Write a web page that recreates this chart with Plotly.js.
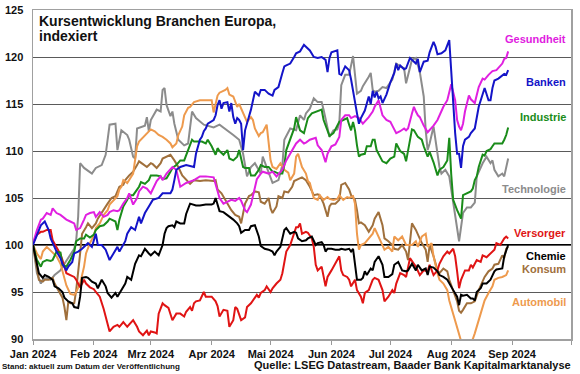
<!DOCTYPE html>
<html>
<head>
<meta charset="utf-8">
<script src="https://cdn.plot.ly/plotly-3.0.1.min.js"></script>
<style>
html,body{margin:0;padding:0;background:#fff;}
#chart{width:580px;height:374px;}
</style>
</head>
<body>
<div id="chart"></div>
<script>
// Day offsets are days since 1 Jan 2024; values are index levels (start = 100)
const tickDates = ['2024-01-01','2024-02-01','2024-03-01','2024-04-01','2024-05-01','2024-06-01','2024-07-01','2024-08-01','2024-09-01','2024-10-01'];
const tickLabels = ['Jan 2024','Feb 2024','Mrz 2024','Apr 2024','Mai 2024','Jun 2024','Jul 2024','Aug 2024','Sep 2024',''];

const techDay = [0,2,4,5,7,9,11,14,16,19,21,22,23,24,26,30,32,35,37,39,42,43,45,48,49,51,52,53,57,58,59,60,63,65,66,67,68,70,71,72,74,77,79,81,83,87,92,95,99,102,105,107,109,111,113,116,117,120,122,125,127,128,131,134,136,138,139,141,143,145,147,148,150,151,153,155,156,157,159,161,163,165,167,168,171,172,173,174,176,178,180,182,183,184,185,187,189,190,191,193,195,196,197,199,200,201,202,204,206,207,208,210,212,213,214,216,217,219,221,223,225,226,228,229,231,233,234,235,237,239,240,242];
const techVal = [100,97.0,95.9,96.3,96.5,96.3,96.8,97.3,98.0,99.0,99.6,100.5,103.0,108.7,108.2,107.6,108.2,108.5,109.6,112.8,112.9,110.1,112.2,111.7,111.2,109.4,109.2,112.4,112.7,113.6,112.1,113.3,114.4,114.2,116.5,116.7,114.9,113.7,114.2,112.9,111.2,110.6,110.8,114.2,113.5,112.8,112.5,112.8,112.2,111.7,111.2,109.7,107.3,108.3,108.7,107.6,109.4,107.8,106.6,106.9,108.5,111.2,112.4,112.2,113.8,113.3,114.0,114.5,115.6,115.2,115.2,114.4,112.4,111.5,112.2,112.3,113.0,117.0,118.1,118.1,120.1,116.1,116.4,116.9,117.9,118.3,116.5,116.3,116.4,116.8,116.7,117.4,117.6,118.4,119.3,119.0,118.8,117.2,118.1,119.7,119.9,119.1,118.4,115.8,112.2,110.1,110.8,112.6,109.7,108.3,107.6,108.0,107.3,105.9,104.1,101.6,100.4,103.4,104.0,104.0,104.5,107.3,108.3,108.7,109.4,108.7,109.0,108.0,107.3,107.6,107.3,109.2];

const bankDay = [0,2,4,6,8,9,10,12,14,15,17,18,20,21,23,25,27,28,30,32,33,35,37,39,41,43,44,47,48,50,52,54,55,57,59,61,64,66,70,71,72,73,75,78,82,83,85,86,87,88,89,92,93,94,95,96,97,99,100,101,102,103,104,105,106,107,108,109,110,111,113,115,116,118,120,122,123,125,127,128,129,131,133,134,136,138,139,141,143,145,147,149,150,151,152,155,156,157,159,161,162,163,164,165,166,167,169,171,172,173,174,175,176,177,178,180,182,184,185,186,187,189,190,191,192,195,196,197,199,201,202,204,205,206,208,210,212,213,214,215,216,217,218,219,220,222,223,225,227,229,230,232,233,234,235,237,238,240,241,242];
const bankVal = [100,101.1,102.1,102.5,101.6,100.7,100.2,99.3,98.6,98.0,97.3,97.7,98.2,99.1,99.3,99.6,100.0,100.2,99.8,101.2,100.0,100.0,99.5,98.4,99.1,99.8,99.3,100.4,101.2,101.9,101.6,103.0,102.3,103.4,104.1,104.8,105.0,105.5,105.5,105.9,106.9,108.0,108.3,108.5,108.3,109.7,111.2,111.5,112.1,112.4,112.9,113.3,113.8,114.9,115.4,114.5,115.1,115.2,114.2,115.1,113.6,112.9,113.5,113.3,112.9,110.1,112.2,112.9,113.6,114.4,116.3,115.9,116.5,116.5,116.1,115.9,116.5,116.8,118.3,119.0,119.1,119.3,120.0,120.4,120.6,121.3,121.1,120.7,120.0,119.9,120.0,119.7,118.4,119.9,120.5,120.7,118.2,118.1,119.0,118.6,117.6,116.3,115.4,114.0,112.9,113.5,114.3,115.8,115.0,116.4,115.7,116.3,115.6,115.8,115.1,116.0,117.3,118.3,119.3,118.6,119.1,118.7,118.8,119.3,119.9,119.3,119.8,118.4,119.5,119.6,120.5,121.6,121.1,120.3,120.4,120.7,121.8,118.5,114.5,111.9,109.7,109.7,108.2,110.5,111.2,111.5,111.9,112.4,114.7,116.0,116.7,115.4,115.4,116.7,117.5,117.7,117.9,118.2,118.1,118.6];

const healthDay = [0,2,4,5,7,9,10,12,14,15,17,19,21,22,24,26,27,29,31,32,34,36,38,39,41,43,44,46,48,49,51,53,54,56,58,60,61,63,65,66,68,70,71,73,74,75,78,82,85,88,92,94,95,97,99,101,103,105,106,108,109,111,112,113,114,116,117,120,122,124,127,129,131,133,134,136,138,139,141,144,145,147,149,150,152,154,156,157,159,161,162,164,166,168,169,171,173,174,176,177,178,180,182,183,185,187,189,190,191,193,194,195,196,197,199,201,202,204,206,207,209,211,212,213,215,216,217,218,219,220,222,223,225,227,229,230,232,234,236,238,239,240,241,242];
const healthVal = [100.2,101.6,102.7,102.8,103.4,103.2,103.9,103.4,103.2,103.0,102.7,102.5,102.3,101.6,101.8,102.7,103.2,103.4,103.5,103.0,103.5,103.0,103.2,103.5,103.7,103.6,103.7,104.4,105.0,105.5,104.3,105.0,105.7,106.2,106.0,105.5,105.9,106.8,107.3,106.9,107.6,108.0,108.3,108.0,106.9,106.2,106.6,106.9,107.3,107.3,107.2,105.9,105.0,104.4,104.6,104.8,104.7,105.0,104.7,103.7,103.5,104.3,105.2,106.2,107.0,107.6,107.8,107.6,107.8,107.3,108.0,109.0,109.7,110.4,110.8,111.2,110.8,110.9,111.2,111.4,110.6,110.1,108.8,109.7,110.5,110.7,111.5,113.3,113.8,113.8,113.5,113.7,113.5,112.9,113.1,113.6,114.2,114.7,115.4,114.7,113.8,113.3,113.1,112.7,111.9,112.1,112.4,112.2,112.4,114.0,114.7,114.2,113.8,113.6,112.7,112.0,112.2,112.7,113.3,113.8,114.7,115.4,116.3,117.1,115.4,113.3,112.6,112.2,112.9,114.2,115.9,115.5,115.1,116.8,117.7,117.6,118.1,118.5,118.6,119.0,119.3,119.8,119.9,120.6];

const indDay = [0,2,4,5,7,9,10,12,14,15,17,19,21,22,24,26,27,29,31,32,34,36,38,39,42,43,44,46,48,49,51,53,54,55,57,59,60,63,65,66,68,70,71,73,75,77,78,80,81,82,85,86,88,89,91,93,94,95,97,99,100,102,104,105,107,108,110,111,113,115,116,118,120,122,123,125,127,128,129,131,133,134,136,138,140,142,145,147,148,150,151,153,155,156,158,160,161,162,163,164,165,166,167,169,170,172,173,174,175,177,178,180,182,184,185,187,189,190,191,192,193,194,195,196,198,199,201,202,204,206,207,209,211,212,213,214,216,217,218,219,221,223,224,225,226,227,229,230,231,233,234,235,237,239,240,241,242];
const indVal = [100,98.4,97.7,98.2,98.4,98.3,98.4,99.3,99.2,97.9,97.7,98.4,99.3,100.4,100.7,100.7,101.1,100.8,101.1,101.6,102.0,102.1,102.5,102.8,102.5,101.6,102.7,104.1,104.8,105.3,105.3,105.9,106.2,106.7,106.5,106.9,107.4,107.4,107.3,107.0,107.1,107.8,108.2,108.5,109.0,109.0,109.6,110.8,111.2,111.0,111.0,111.0,110.8,111.2,110.5,109.6,110.3,110.0,109.6,110.1,109.2,109.0,109.4,110.1,108.3,108.2,108.2,107.4,107.4,108.0,108.5,108.3,108.3,107.8,107.8,107.6,107.6,108.5,110.1,111.2,112.4,113.6,112.2,111.9,113.5,114.0,114.2,114.4,113.3,112.2,111.6,111.9,112.8,113.1,113.3,113.5,112.8,112.2,113.1,112.2,110.6,109.4,109.6,109.7,110.5,110.5,111.2,111.2,110.1,109.3,108.9,108.7,109.2,109.4,110.8,110.0,109.7,108.9,110.0,111.2,112.3,112.2,111.9,111.5,111.2,110.5,109.4,109.9,108.8,107.4,108.0,108.3,109.0,111.4,107.5,104.8,103.7,103.2,102.8,105.3,105.5,105.7,106.0,106.9,107.3,108.3,109.6,109.5,110.0,110.2,110.5,110.8,110.8,110.8,111.2,111.7,112.5];

const utilDay = [0,2,4,5,7,9,10,12,14,15,17,19,21,22,24,26,27,29,31,32,34,36,38,39,41,43,44,46,48,49,51,53,54,56,58,59,60,62,63,64,66,67,69,71,73,75,77,78,80,81,82,83,85,87,88,89,91,93,94,95,97,99,100,102,103,104,105,106,108,109,111,112,114,115,116,118,119,121,122,124,126,127,128,129,131,133,134,135,136,137,139,140,142,143,144,145,147,149,150,152,154,156,157,158,160,161,162,164,165,167,168,169,171,173,174,176,178,179,181,183,184,185,187,189,190,192,194,195,197,199,201,202,204,206,207,209,211,212,214,215,216,217,218,220,222,223,224,226,228,229,231,233,235,236,238,240,241,242];
const utilVal = [100.2,101.1,101.4,101.4,101.6,101.6,100.5,99.8,99.0,98.4,97.0,96.8,96.6,96.3,95.5,96.3,95.9,95.5,95.3,95.0,94.5,93.2,91.6,90.8,91.3,91.5,91.3,91.8,91.3,91.5,92.0,91.3,90.8,90.4,90.9,90.4,90.8,90.7,90.6,92.7,93.8,93.6,93.3,92.0,92.7,92.7,92.4,92.9,93.4,93.0,93.8,94.0,94.1,95.0,94.5,94.5,94.5,94.0,93.5,92.4,93.1,93.0,91.3,92.0,93.4,93.2,92.7,92.0,92.3,93.4,93.8,94.1,94.7,94.4,94.9,95.2,95.6,95.0,95.4,95.9,96.3,97.0,98.4,99.3,100.0,101.2,101.9,101.9,102.3,101.2,101.4,101.3,100.7,99.8,97.9,97.3,97.7,95.6,96.6,97.3,98.0,98.8,97.3,96.8,96.6,96.3,95.6,96.3,95.2,94.5,93.8,94.9,95.2,96.3,96.5,96.3,95.2,94.0,94.5,95.2,94.9,95.9,97.0,96.8,96.6,98.6,98.0,97.7,96.8,97.3,97.2,97.9,96.8,97.3,98.0,98.8,99.3,99.1,99.6,98.8,97.2,95.4,96.3,97.3,97.3,97.9,97.6,98.4,98.2,98.9,98.7,99.1,99.5,100.2,100.0,100.7,100.9,100.7];

const chemDay = [0,2,3,5,6,8,10,11,13,15,16,18,20,21,23,24,25,27,28,30,32,33,35,37,38,40,42,43,45,47,48,50,52,54,55,57,59,60,62,64,66,67,68,69,71,72,73,75,77,78,80,82,83,85,87,88,91,92,93,94,95,97,99,100,102,104,105,106,108,110,111,113,115,116,118,120,122,123,124,126,128,129,131,133,134,135,137,139,140,142,144,145,147,148,149,150,152,154,156,157,159,161,162,163,164,165,167,168,169,170,172,173,174,176,178,179,181,183,184,186,188,190,191,193,195,196,198,200,201,202,204,206,207,209,211,212,214,216,217,218,219,221,223,224,225,226,228,229,231,233,235,236,238,239,240,242];
const chemVal = [100,98.0,97.0,96.5,96.8,96.6,96.3,95.6,95.4,95.0,94.4,94.0,93.8,93.4,93.3,94.5,96.5,96.6,96.5,96.1,95.9,95.4,96.3,95.6,94.9,94.4,94.9,94.5,95.2,95.9,96.6,96.3,98.0,98.9,98.8,99.6,99.1,98.9,99.3,98.9,100.0,101.2,101.8,102.0,102.1,101.9,102.5,102.3,102.3,103.3,104.4,104.3,104.2,104.2,104.3,104.3,104.3,104.4,105.0,104.3,103.6,103.5,103.2,103.0,102.7,102.3,102.0,101.3,101.6,101.6,102.0,102.1,100.9,99.9,99.6,99.5,99.3,98.9,99.3,99.8,101.6,101.8,101.2,101.4,101.3,100.7,100.4,100.5,100.7,100.9,100.0,100.2,100.3,100.0,99.3,99.6,99.6,99.5,99.5,99.6,99.5,99.6,99.3,99.6,98.0,96.3,96.3,96.5,97.2,96.8,97.5,97.3,98.2,98.8,97.9,96.6,96.6,96.9,97.9,98.2,97.3,97.2,97.3,98.0,97.3,97.9,97.3,97.5,96.8,97.7,97.6,97.2,96.8,96.6,96.3,95.9,95.2,94.5,93.6,94.7,94.6,94.7,94.3,94.3,94.1,95.0,95.4,95.9,95.9,96.3,97.2,97.4,97.5,97.5,98.8,100.0];

const consDay = [0,2,3,5,6,8,10,11,13,15,16,17,18,19,21,22,24,25,27,28,30,32,33,35,37,38,40,42,43,44,46,47,49,51,53,54,56,58,60,61,63,65,66,68,70,72,74,76,78,80,82,85,88,92,93,94,96,98,99,101,103,105,106,107,108,110,111,113,115,116,118,120,121,122,124,125,127,128,130,132,133,135,137,139,141,143,145,146,148,150,151,152,154,156,157,159,161,162,164,165,166,167,169,171,173,174,176,178,179,181,183,184,186,188,190,191,192,193,195,196,198,200,201,202,204,206,207,209,211,212,214,216,217,218,219,220,221,223,225,227,229,230,232,234,235,237,239,240,241,242];
const consVal = [100,97.3,96.3,96.1,96.3,96.3,96.5,95.9,95.2,94.4,93.4,92.0,94.0,93.8,93.8,95.2,99.1,101.2,101.9,102.3,101.8,102.3,102.8,103.5,104.1,104.4,105.0,105.2,105.7,106.2,106.4,106.9,107.4,107.8,108.5,108.9,108.6,108.3,108.7,108.6,108.2,108.7,109.2,109.4,109.6,109.0,108.3,107.4,107.0,106.5,106.9,106.8,106.9,106.8,106.9,105.9,105.5,104.8,104.3,103.7,103.2,103.0,102.3,103.4,104.4,105.2,105.3,105.7,105.6,104.6,104.4,105.0,103.9,103.4,104.1,105.2,105.0,105.7,105.6,106.2,106.8,107.0,107.2,106.9,106.2,105.3,105.4,105.3,104.4,103.0,104.1,104.4,104.4,104.8,106.4,106.6,105.9,105.3,104.8,103.7,102.3,102.4,102.1,101.4,102.1,102.8,103.5,102.1,100.7,100.4,100.0,99.6,99.5,100.0,99.3,98.4,100.5,102.3,101.6,101.1,100.2,99.5,98.2,100.0,98.8,97.3,97.0,97.5,97.2,96.3,95.2,94.0,93.0,92.8,93.1,93.5,93.8,93.8,94.0,95.2,96.1,96.6,97.2,97.5,97.9,98.0,98.9,98.6,99.6,99.8];

const autoDay = [0,2,4,5,7,9,10,12,14,15,17,19,21,22,24,26,27,29,31,32,34,36,38,39,41,43,44,45,46,48,51,52,53,54,55,57,59,60,62,64,66,68,70,71,73,74,76,77,79,80,82,85,88,91,92,94,95,98,99,100,102,104,105,107,109,111,112,113,115,116,117,119,120,121,122,124,126,128,130,131,133,134,135,137,139,140,141,143,145,146,148,150,151,153,155,156,158,160,161,163,164,165,166,167,169,171,173,174,176,178,179,181,183,184,186,188,190,193,195,196,198,200,201,203,204,206,207,209,211,212,214,216,217,218,220,222,223,224,225,227,229,230,232,234,235,237,239,241,242];
const autoVal = [100,99.1,98.5,99.3,99.8,99.4,99.1,98.8,98.0,97.3,95.7,94.8,94.7,95.0,95.9,97.7,99.1,100.2,101.0,101.8,102.3,103.2,103.7,104.3,104.8,105.2,105.9,106.2,106.9,106.6,107.6,109.0,110.5,111.0,111.2,111.7,112.0,112.3,112.1,111.7,111.5,111.2,110.8,110.4,110.8,111.7,112.6,113.8,114.6,114.7,115.2,115.4,115.4,115.4,114.1,115.9,116.2,116.5,116.7,116.0,115.8,114.7,115.0,114.0,113.1,113.6,113.3,112.4,111.6,111.9,112.0,112.8,111.2,109.0,108.3,108.1,108.7,108.0,107.7,106.9,107.6,109.4,109.7,108.3,107.6,106.8,106.6,105.0,104.8,105.3,104.8,105.1,104.9,104.8,104.9,105.3,104.8,105.1,105.0,105.2,104.4,101.2,99.5,100.0,100.2,100.7,101.2,101.8,100.9,100.0,99.5,99.8,99.3,100.9,100.5,100.9,100.0,100.0,100.4,99.8,100.9,101.2,99.8,100.2,98.8,97.0,96.3,95.9,95.2,94.1,92.7,91.3,90.4,89.8,89.5,89.4,89.6,90.0,90.6,92.0,93.3,94.1,94.9,95.6,96.3,96.5,96.6,96.8,97.3];

const seriesNames = ['Technologie','Konsum','Automobil','Versorger','Industrie','Gesundheit','Chemie','Banken'];
const seriesDays = [techDay,consDay,autoDay,utilDay,indDay,healthDay,chemDay,bankDay];
const seriesVals = [techVal,consVal,autoVal,utilVal,indVal,healthVal,chemVal,bankVal];
const seriesColors = ['#8C8C8C','#A0703C','#EE9A4D','#E01414','#1A8C1A','#E020E0','#000000','#1414C8'];

// label placement (value level of right-side labels)
const labelNames = ['Gesundheit','Banken','Industrie','Technologie','Versorger','Chemie','Konsum','Automobil'];
const labelLevels = [121.9,117.3,113.6,106.0,101.3,98.8,97.4,93.9];
const labelColors = ['#E020E0','#1414C8','#1A8C1A','#8C8C8C','#E01414','#000000','#A0703C','#EE9A4D'];

function dayToDate(d){
  return new Date(Date.UTC(2024,0,1) + d*86400000).toISOString().slice(0,10);
}

const font = 'Liberation Sans, Arial, Helvetica, sans-serif';

const traces = seriesNames.map((n,i)=>({
  type:'scatter', mode:'lines', name:n,
  x: seriesDays[i].map(dayToDate), y: seriesVals[i],
  line:{color:seriesColors[i], width:2},
  hoverinfo:'skip'
}));

const annotations = labelNames.map((n,i)=>({
  text:n, xref:'paper', yref:'y', x:0.9944, y:labelLevels[i],
  xanchor:'right', yanchor:'middle', showarrow:false,
  font:{family:font, size:11, color:labelColors[i], weight:700}
}));
annotations.push(
  {text:'Kursentwicklung Branchen Europa,', xref:'paper', yref:'paper', x:0.008, y:0.9666, xanchor:'left', yanchor:'middle', showarrow:false, font:{family:font,size:14,color:'#111',weight:700}},
  {text:'indexiert', xref:'paper', yref:'paper', x:0.008, y:0.921, xanchor:'left', yanchor:'middle', showarrow:false, font:{family:font,size:14,color:'#111',weight:700}},
  {text:'Stand: aktuell zum Datum der Veröffentlichung', xref:'paper', yref:'paper', x:-0.0613, y:-0.0851, xanchor:'left', yanchor:'middle', showarrow:false, font:{family:font,size:8,color:'#111',weight:700}},
  {text:'Quelle: LSEG Datastream, Baader Bank Kapitalmarktanalyse', xref:'paper', yref:'paper', x:1.0037, y:-0.079, xanchor:'right', yanchor:'middle', showarrow:false, font:{family:font,size:11,color:'#111',weight:700}}
);

const layout = {
  width:580, height:374,
  margin:{l:33, r:9, t:10, b:35},
  paper_bgcolor:'#fff', plot_bgcolor:'#fff',
  showlegend:false,
  font:{family:font, color:'#111'},
  xaxis:{
    type:'date', range:['2024-01-01','2024-10-01'],
    tickmode:'array', tickvals:tickDates, ticktext:tickLabels,
    ticks:'outside', ticklen:4, tickcolor:'#999', tickwidth:1,
    showgrid:false, zeroline:false,
    showline:true, linecolor:'#A0A0A0', linewidth:1.5, mirror:true,
    tickfont:{family:font, size:11, color:'#111', weight:700}
  },
  yaxis:{
    range:[90,125], tickmode:'array', tickvals:[90,95,100,105,110,115,120,125],
    showgrid:true, gridcolor:'#5a5a5a', gridwidth:1, zeroline:false,
    showline:true, linecolor:'#A0A0A0', linewidth:1.5, mirror:true,
    ticks:'', ticklabelstandoff:6,
    tickfont:{family:font, size:11, color:'#111', weight:700}
  },
  shapes:[{type:'line', xref:'paper', yref:'y', x0:0, x1:1, y0:100, y1:100, line:{color:'#000', width:2}, layer:'below'}],
  annotations:annotations
};

Plotly.newPlot('chart', traces, layout, {staticPlot:true, displayModeBar:false});
</script>
</body>
</html>
